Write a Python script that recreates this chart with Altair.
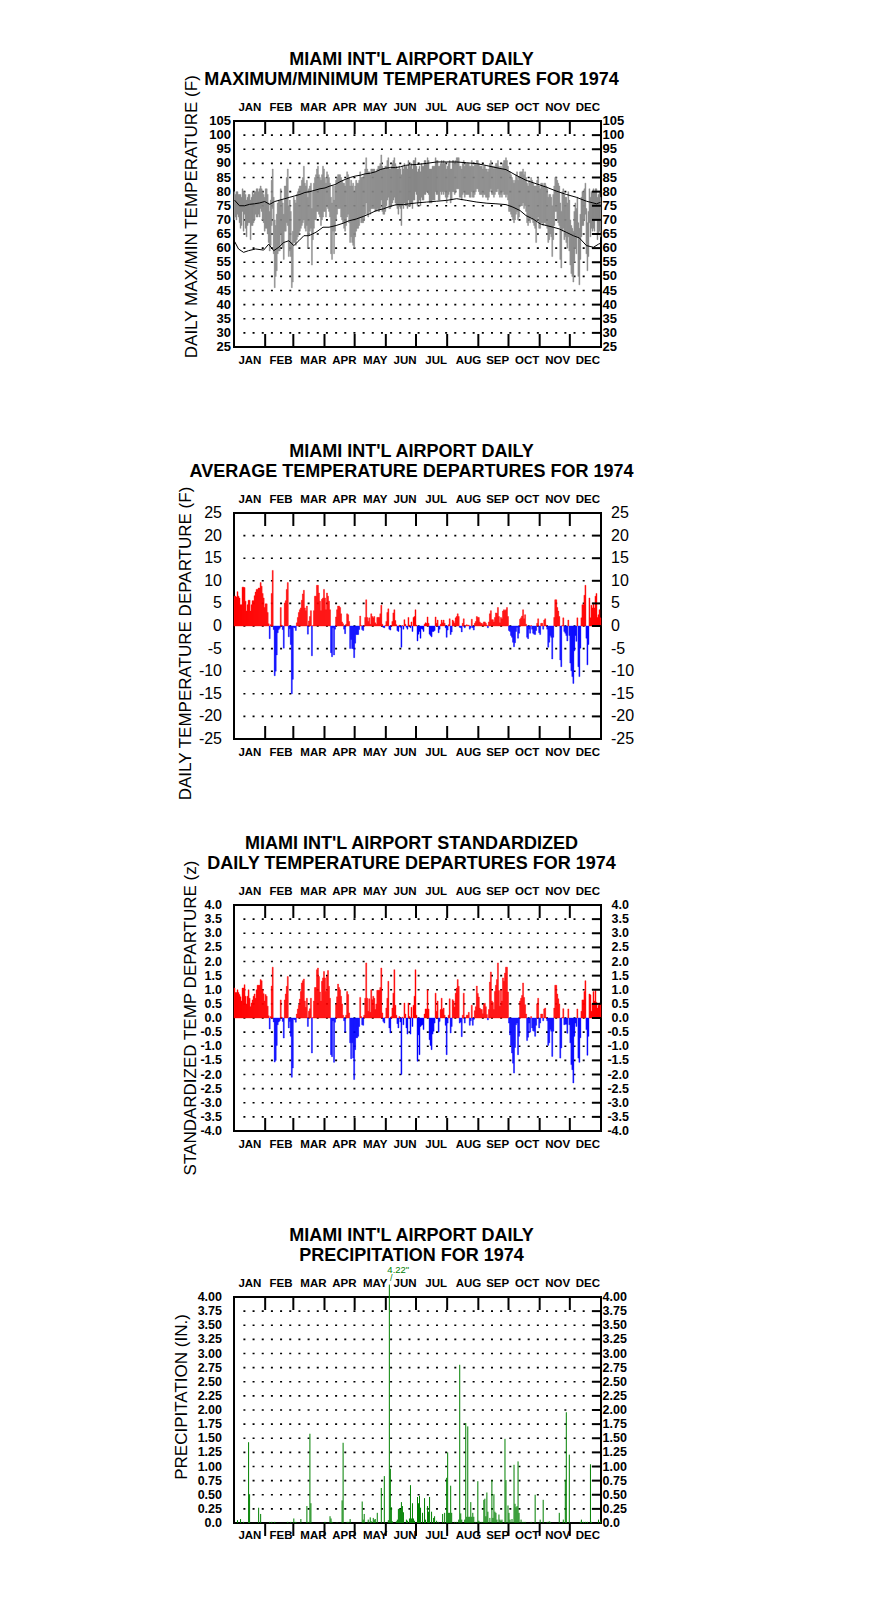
import altair as alt
import pandas as pd

MONTHS = ["JAN", "FEB", "MAR", "APR", "MAY", "JUN", "JUL", "AUG", "SEP", "OCT", "NOV", "DEC"]
MONTH_LENGTHS = [31, 28, 31, 30, 31, 30, 31, 31, 30, 31, 30, 31]
MONTH_EDGES = [31, 59, 90, 120, 151, 181, 212, 243, 273, 304, 334]
LABEL_DAYS = [15.8, 46.7, 79.0, 109.8, 140.5, 170.1, 201.0, 233.2, 262.2, 291.6, 321.9, 351.9]

# ---------------- daily maximum / minimum temperature (F) ----------------
TMAX_BY_MONTH = [
    [80, 79, 80, 80, 79, 79, 79, 78, 81, 80, 80, 79, 77, 78, 79, 79, 77, 78, 80, 79, 80, 80, 81, 81, 80, 81, 82, 81, 80, 79, 78],
    [81, 81, 79, 76, 73, 77, 84, 88, 78, 70, 68, 72, 76, 77, 77, 81, 77, 76, 72, 82, 82, 85, 88, 75, 77, 73, 62, 66],
    [78, 77, 76, 79, 80, 81, 82, 82, 84, 85, 89, 83, 82, 84, 78, 81, 82, 83, 74, 80, 83, 85, 86, 88, 89, 86, 85, 84, 86, 89, 88],
    [85, 83, 87, 86, 85, 83, 78, 76, 82, 77, 82, 84, 85, 86, 86, 86, 85, 84, 83, 83, 82, 84, 87, 86, 85, 82, 84, 82, 83, 80],
    [82, 84, 83, 83, 84, 87, 85, 85, 85, 86, 88, 92, 88, 87, 87, 86, 88, 88, 88, 88, 87, 87, 88, 89, 89, 90, 93, 89, 88, 88, 89],
    [89, 91, 92, 88, 88, 89, 90, 91, 92, 90, 89, 88, 88, 89, 88, 86, 89, 88, 90, 89, 89, 88, 91, 89, 89, 90, 88, 91, 91, 92],
    [89, 87, 88, 89, 87, 90, 89, 89, 91, 91, 90, 92, 91, 88, 88, 88, 89, 89, 89, 92, 91, 91, 89, 89, 90, 91, 90, 91, 90, 90, 88],
    [89, 90, 91, 88, 88, 91, 91, 90, 91, 92, 92, 92, 89, 89, 88, 90, 91, 89, 90, 90, 90, 90, 89, 89, 91, 89, 89, 90, 90, 91, 91],
    [90, 89, 89, 89, 88, 89, 89, 88, 88, 87, 88, 90, 91, 89, 89, 88, 89, 90, 90, 91, 89, 88, 89, 88, 90, 91, 91, 92, 91, 89],
    [87, 87, 86, 85, 84, 83, 84, 86, 87, 84, 85, 87, 87, 87, 88, 86, 87, 85, 83, 82, 84, 83, 85, 84, 83, 82, 82, 82, 84, 85, 82],
    [81, 83, 83, 82, 83, 83, 82, 81, 78, 79, 79, 78, 75, 79, 82, 85, 85, 84, 83, 82, 76, 73, 80, 81, 79, 78, 78, 76, 80, 77],
    [70, 68, 67, 66, 73, 76, 74, 78, 69, 67, 72, 78, 80, 80, 81, 83, 74, 69, 73, 81, 78, 80, 80, 81, 80, 81, 81, 78, 79, 80, 78],
]
TMIN_BY_MONTH = [
    [70, 71, 70, 72, 71, 69, 67, 68, 73, 66, 72, 67, 64, 68, 69, 69, 63, 68, 68, 69, 70, 72, 71, 71, 72, 71, 74, 73, 70, 69, 66],
    [67, 67, 65, 62, 59, 61, 68, 74, 58, 46, 50, 52, 58, 59, 59, 65, 61, 60, 56, 66, 66, 69, 68, 57, 59, 57, 46, 48],
    [62, 62, 61, 63, 64, 65, 66, 67, 68, 69, 70, 67, 66, 68, 60, 65, 66, 67, 54, 63, 67, 70, 70, 73, 73, 72, 71, 68, 70, 71, 73],
    [73, 71, 75, 74, 73, 71, 58, 56, 66, 58, 66, 70, 72, 74, 74, 74, 71, 70, 69, 67, 66, 68, 71, 72, 69, 62, 64, 62, 61, 60],
    [64, 66, 67, 67, 68, 71, 69, 69, 69, 70, 72, 76, 72, 71, 73, 72, 74, 74, 74, 74, 73, 73, 74, 73, 73, 74, 77, 73, 72, 72, 73],
    [75, 77, 78, 74, 74, 75, 76, 77, 78, 76, 75, 74, 72, 75, 74, 68, 75, 74, 76, 75, 75, 74, 77, 75, 75, 76, 74, 77, 77, 80],
    [79, 75, 76, 77, 75, 78, 77, 77, 79, 79, 80, 80, 79, 76, 76, 76, 77, 77, 77, 80, 79, 79, 77, 77, 80, 79, 80, 79, 80, 78, 76],
    [78, 79, 80, 76, 77, 80, 80, 79, 80, 81, 81, 81, 78, 78, 77, 79, 80, 78, 79, 79, 79, 79, 78, 78, 80, 78, 78, 79, 80, 81, 81],
    [80, 79, 79, 79, 78, 79, 79, 78, 78, 77, 78, 80, 81, 79, 79, 78, 79, 80, 80, 81, 79, 78, 79, 78, 80, 79, 79, 78, 79, 77],
    [73, 73, 72, 71, 70, 69, 70, 72, 73, 70, 71, 75, 75, 75, 76, 74, 75, 73, 69, 68, 70, 69, 71, 70, 69, 68, 67, 62, 70, 71, 67],
    [67, 69, 69, 68, 69, 69, 68, 67, 62, 63, 65, 64, 57, 63, 68, 73, 73, 70, 69, 68, 56, 53, 66, 67, 63, 64, 62, 60, 64, 59],
    [54, 51, 50, 48, 55, 60, 58, 64, 50, 47, 56, 64, 68, 68, 70, 72, 58, 52, 57, 69, 64, 67, 66, 67, 66, 70, 70, 63, 65, 66, 64],
]

# normal max / min curves (day of year, F)
NMAX_DAY = [0, 5, 10, 15, 20, 25, 30, 35, 40, 45, 50, 55, 60, 65, 70, 75, 80, 85, 90, 95, 100, 105, 110, 115, 120,
            125, 130, 135, 140, 145, 150, 155, 160, 165, 170, 175, 181, 191, 201, 211, 221, 231, 241, 251, 260, 270,
            280, 290, 300, 310, 320, 330, 340, 350, 360, 364]
NMAX_VAL = [77.0, 75.0, 75.0, 75.5, 75.7, 76.0, 76.5, 75.5, 76.5, 77.0, 77.5, 78.0, 78.5, 79.0, 79.7, 80.0, 80.5, 81.0,
            81.3, 82.0, 82.5, 83.5, 84.3, 85.0, 85.5, 85.8, 86.3, 86.5, 87.0, 87.8, 88.3, 88.5, 88.5, 88.8, 89.3, 89.5,
            89.6, 90.0, 90.5, 90.5, 90.5, 90.2, 89.9, 89.2, 88.5, 87.8, 85.8, 84.0, 82.8, 81.6, 80.2, 79.0, 78.0, 76.6,
            75.7, 76.2]
NMIN_DAY = [0, 4, 9, 14, 21, 29, 34, 39, 44, 49, 54, 59, 64, 69, 74, 81, 88, 94, 101, 108, 114, 121, 128, 134, 141, 148,
            154, 161, 168, 174, 181, 191, 201, 211, 221, 231, 241, 251, 260, 270, 277, 284, 290, 297, 304, 310, 317,
            323, 330, 337, 343, 350, 357, 362, 364]
NMIN_VAL = [62.4, 59.7, 58.5, 59.1, 59.7, 59.3, 61.4, 59.1, 60.3, 62.0, 62.6, 60.9, 62.6, 64.4, 64.4, 65.6, 67.4, 67.4,
            68.0, 68.8, 69.7, 70.3, 71.2, 72.1, 73.3, 73.9, 74.7, 75.4, 75.4, 75.7, 76.0, 76.3, 76.6, 76.9, 77.5, 76.9,
            76.3, 75.9, 75.7, 75.4, 74.5, 73.3, 71.5, 70.3, 68.6, 68.0, 67.4, 66.8, 65.6, 64.4, 63.6, 60.9, 60.3, 61.4,
            61.7]

# ---------------- daily average temperature departure (F) ----------------
DEP_BY_MONTH = [
    [6.6, 6.6, 6.4, 7.6, 6.6, 6.2, 4.7, 4.7, 8.6, 8.6, 8.5, 5.5, 3.3, 4.7, 5.7, 5.7, 3.3, 4.7, 5.6, 5.6, 6.7, 7.5, 8.1, 8.1, 8.4, 8.4, 9.6, 8.8, 7.2, 6.2, 4.1],
    [4.9, 4.9, 3.0, 0.5, -2.8, 0.3, 7.2, 12.3, -0.8, -11.0, -10.0, -6.4, -1.5, -0.8, -0.5, 4.1, 0.2, -0.8, -4.9, 5.1, 5.6, 8.1, 9.6, -2.4, -0.6, -4.1, -15.0, -11.8],
    [-0.3, -0.4, -1.0, 0.7, 1.9, 3.0, 3.6, 4.0, 5.7, 7.1, 7.9, 4.0, 3.4, 4.4, -1.8, 1.1, 2.1, 3.4, -6.6, 0.1, 3.4, 6.6, 6.6, 9.0, 9.0, 7.3, 5.5, 3.4, 5.9, 6.2, 8.1],
    [6.2, 3.6, 7.3, 6.6, 5.5, 3.6, -5.9, -6.8, -0.4, -6.4, -0.7, 2.0, 3.6, 4.4, 4.4, 4.1, 2.7, 0.9, 0.5, -0.7, -1.7, 0.4, 2.7, 2.5, 1.0, -5.0, -3.0, -5.0, -5.0, -7.0],
    [-3.8, -1.9, -1.9, -1.9, -0.8, 2.2, 0.1, -0.8, -1.0, 0.1, 1.9, 5.8, 1.9, 1.0, 1.8, 0.4, 2.7, 2.1, 1.8, 2.1, 0.7, 0.4, 1.9, 1.9, 1.9, 2.7, 4.6, 0.4, -0.3, -0.4, 0.1],
    [1.0, 3.0, 3.8, -0.7, -0.9, 0.1, 1.0, 2.9, 3.6, 1.2, 0.3, -1.0, -1.2, 0.2, -0.3, -4.7, 0.1, -0.7, 1.4, 0.4, -0.3, -0.7, 1.9, 0.2, -0.4, 0.9, -1.2, 1.9, 2.1, 3.6],
    [0.2, -3.3, -1.8, -1.2, -2.7, -0.6, -0.7, -1.2, 0.4, 0.7, 0.6, 2.0, 0.6, -1.8, -2.1, -2.4, -1.2, -1.2, -1.0, 2.0, 0.6, 1.3, -1.5, -0.7, 0.4, 1.3, 0.7, 1.3, 0.6, -0.4, -2.5],
    [-0.9, 0.3, 1.6, -1.9, -1.3, 1.3, 1.0, 0.6, 1.8, 2.1, 2.7, 2.1, -0.3, -0.4, -1.3, 0.6, 1.6, -0.4, 0.1, 0.3, 0.1, 0.2, -0.7, -0.4, 1.5, -0.4, -0.9, 0.6, 1.0, 2.1, 1.9],
    [1.9, 0.9, 0.6, 0.6, 0.3, 0.9, 0.9, 0.6, 0.2, -0.4, 0.9, 2.7, 3.4, 1.4, 1.4, 0.9, 1.9, 2.9, 2.8, 4.1, 2.1, 0.7, 1.9, 1.6, 3.3, 3.6, 3.4, 3.6, 4.1, 2.1],
    [-1.0, -1.2, -2.1, -2.5, -3.6, -4.6, -3.7, -1.2, -0.3, -2.7, -1.6, 1.5, 1.8, 2.2, 3.6, 1.6, 2.5, 0.4, -2.5, -2.8, -0.7, -1.6, 0.1, -0.7, -1.6, -1.8, -1.9, -1.0, 0.6, 1.6, -1.5],
    [-1.9, 0.6, 0.6, -0.7, 1.3, 1.6, 0.2, -0.7, -4.7, -3.6, -2.1, -2.5, -7.3, -2.5, 1.9, 5.8, 5.8, 4.1, 3.3, 2.1, -7.5, -9.0, 0.1, 1.8, -1.2, -1.6, -2.1, -3.3, 1.3, -2.1],
    [-8.2, -9.9, -11.2, -12.7, -5.5, -2.1, -3.4, 1.8, -9.0, -11.2, -4.9, 1.8, 4.7, 4.7, 6.8, 9.0, -2.7, -8.6, -4.1, 6.2, 1.8, 4.6, 4.0, 5.1, 4.0, 6.6, 7.2, 1.9, 2.5, 3.6, 1.8],
]

# ---------------- standardized daily departure (z) ----------------
STD_BY_MONTH = [
    [1.06, 0.9, 0.9, 1.0, 0.9, 0.83, 0.75, 0.6, 1.06, 1.06, 1.18, 0.77, 0.5, 0.77, 1.0, 0.7, 0.4, 0.53, 0.64, 0.77, 0.85, 0.7, 1.0, 1.16, 1.16, 1.16, 1.36, 1.32, 1.0, 0.86, 0.6],
    [0.83, 0.77, 0.42, 0.08, -0.39, 0.05, 1.13, 1.8, -0.14, -1.56, -1.5, -0.97, -0.24, -0.14, -0.1, 0.64, 0.03, -0.12, -0.71, 0.64, 0.85, 1.12, 1.47, -0.35, -0.12, -0.65, -2.1, -1.77],
    [-0.04, -0.06, -0.15, 0.14, 0.32, 0.45, 0.67, 0.94, 1.24, 1.32, 1.38, 0.6, 0.38, 0.7, -0.3, 0.24, 0.33, 0.7, -1.24, 0.02, 0.6, 1.08, 1.08, 1.71, 1.77, 1.47, 0.92, 0.6, 1.3, 1.42, 1.65],
    [1.42, 0.94, 1.47, 1.68, 1.12, 0.7, -1.3, -1.37, -0.1, -1.57, -0.15, 0.47, 0.75, 1.2, 1.08, 1.0, 0.77, 0.5, 0.1, -0.1, -0.5, 0.1, 0.94, 0.83, 0.18, -0.88, -1.44, -0.88, -1.42, -2.18],
    [-1.12, -0.7, -0.7, -0.65, -0.3, 0.73, 0.05, -0.24, -0.26, 0.1, 0.7, 1.95, 0.7, 0.24, 0.68, 0.2, 1.0, 0.65, 0.77, 0.7, 0.3, 0.5, 0.98, 0.98, 0.98, 1.08, 1.77, 0.18, -0.12, -0.18, 0.02],
    [0.35, 0.7, 1.3, -0.35, -0.53, 0.05, 0.35, 0.88, 1.71, 0.45, 0.1, -0.2, -0.35, 0.05, -0.14, -2.0, 0.03, -0.24, 0.53, 0.14, -0.35, -0.57, 0.53, 0.05, -0.57, 0.38, -0.3, 0.45, 0.77, 1.71],
    [0.1, -1.53, -0.6, -1.3, -0.3, -0.26, -0.24, -0.41, 0.14, 0.32, 0.32, 1.0, 0.32, -0.77, -0.97, -1.12, -0.57, -0.47, -0.18, 0.88, 0.24, 0.6, -0.5, -0.12, 0.3, 0.7, 0.3, 0.35, 0.1, -0.26, -1.3],
    [-0.18, 0.1, 0.68, -0.53, -0.3, 0.65, 0.6, 0.39, 0.88, 1.06, 1.36, 1.12, -0.18, -0.14, -0.66, 0.1, 0.88, -0.18, 0.02, 0.1, 0.1, 0.2, -0.26, -0.1, 0.45, -0.26, -0.05, 0.26, 0.4, 1.13, 0.87],
    [0.74, 0.35, 0.3, 0.3, 0.15, 0.5, 0.52, 0.4, 0.12, -0.07, 0.3, 1.27, 1.63, 0.6, 0.55, 0.3, 0.94, 1.16, 1.36, 1.95, 0.97, 0.42, 1.0, 0.6, 1.42, 1.3, 1.59, 1.8, 1.8, 0.92],
    [-0.18, -0.6, -0.97, -1.24, -1.6, -1.95, -1.04, -0.24, -0.18, -1.3, -0.65, 0.6, 0.7, 0.8, 1.24, 0.73, 0.47, 0.14, -0.8, -0.68, -0.18, -0.5, 0.05, -0.35, -0.45, -0.47, -0.65, -0.26, 0.5, 0.7, -0.35],
    [-0.18, 0.14, 0.14, -0.1, 0.32, 0.35, 0.02, -0.1, -0.97, -0.88, -0.4, -0.47, -1.36, -0.47, 0.35, 1.16, 1.16, 0.85, 0.68, 0.5, -1.42, -1.06, 0.02, 0.33, -0.24, -0.22, -0.22, -0.54, 0.32, -0.24],
    [-0.88, -1.65, -1.83, -2.3, -0.65, -0.18, -0.3, 0.32, -1.42, -1.57, -0.7, 0.24, 0.64, 0.64, 0.94, 1.32, -0.41, -1.32, -0.65, 0.85, 0.82, 0.24, 0.5, 0.94, 0.6, 0.97, 0.56, 0.35, 0.45, 0.53, 0.5],
]

# ---------------- daily precipitation (inches), days with rain ----------------
PRCP_DAY = [3, 6, 9, 14, 15, 24, 26, 35, 37, 40,
            53, 56, 59, 61, 66, 72, 73, 75, 76, 90,
            95, 96, 97, 102, 107, 108, 112, 113, 115, 127,
            128, 129, 133, 135, 136, 138, 139, 140, 142, 146,
            149, 153, 154, 155, 156, 157, 161, 162, 163, 164,
            165, 166, 167, 168, 171, 172, 174, 175, 176, 177,
            178, 179, 182, 183, 184, 185, 187, 189, 190, 192,
            193, 194, 196, 198, 199, 201, 203, 207, 209, 211,
            212, 213, 214, 215, 216, 219, 221, 223, 224, 225,
            226, 229, 230, 231, 232, 233, 234, 235, 236, 237,
            238, 240, 242, 243, 244, 246, 248, 249, 250, 251,
            252, 254, 256, 257, 258, 259, 260, 261, 263, 264,
            265, 266, 269, 270, 272, 273, 274, 276, 278, 279,
            280, 281, 282, 283, 285, 287, 289, 295, 299, 304,
            307, 311, 313, 314, 323, 327, 329, 330, 333, 344,
            345, 347, 349, 351, 354, 355, 362, 364]
PRCP_IN = [0.05, 0.07, 0.02, 1.43, 0.51, 0.27, 0.16, 0.02, 0.02, 0.02,
           0.02, 0.02, 0.08, 0.02, 0.07, 0.30, 0.02, 1.58, 0.35, 0.02,
           0.12, 0.08, 0.02, 0.01, 0.40, 1.42, 0.02, 0.02, 0.07, 0.38,
           0.06, 0.16, 0.06, 0.10, 0.03, 0.09, 0.06, 0.07, 0.18, 0.62,
           0.83, 0.05, 4.22, 0.96, 0.28, 0.03, 0.03, 0.06, 0.25, 0.25,
           0.25, 0.37, 0.30, 0.19, 0.06, 0.04, 0.08, 0.67, 0.08, 0.35,
           0.08, 0.04, 0.46, 0.35, 0.48, 0.27, 0.18, 0.44, 0.06, 0.30,
           0.20, 0.46, 0.20, 0.09, 0.12, 0.04, 0.02, 0.16, 0.18, 0.80,
           1.25, 0.18, 0.18, 0.66, 0.18, 0.02, 0.02, 0.06, 2.80, 0.17,
           0.06, 0.06, 1.77, 0.11, 1.71, 0.11, 0.11, 0.37, 0.11, 0.18,
           0.11, 0.02, 0.74, 0.04, 0.02, 0.02, 0.41, 0.43, 0.12, 0.54,
           0.20, 0.09, 0.76, 0.09, 0.51, 0.20, 0.18, 0.06, 0.15, 0.06,
           0.04, 0.06, 1.49, 0.76, 0.31, 0.18, 0.06, 0.07, 1.03, 0.34,
           0.28, 0.30, 1.09, 0.18, 0.06, 0.02, 0.02, 0.02, 0.50, 0.06,
           0.41, 0.02, 0.03, 0.02, 0.18, 0.06, 0.76, 1.96, 1.21, 0.02,
           0.06, 0.02, 0.02, 0.02, 1.04, 0.02, 0.06, 0.04]


def flat(month_lists):
    out = []
    for m, lst in zip(MONTH_LENGTHS, month_lists):
        assert len(lst) == m, (m, len(lst))
        out.extend(lst)
    return out


TMAX = flat(TMAX_BY_MONTH)
TMIN = flat(TMIN_BY_MONTH)
DEP = flat(DEP_BY_MONTH)
STD = flat(STD_BY_MONTH)
assert len(PRCP_DAY) == len(PRCP_IN)
DAYS = list(range(365))

W, H = 367, 226
XS = alt.Scale(domain=[0, 365], nice=False, zero=False)
FONT = "Liberation Sans"


def title_layers(lines):
    out = []
    for i, line in enumerate(lines):
        out.append(alt.Chart(pd.DataFrame({"t": [line]})).mark_text(
            font=FONT, fontSize=18, fontWeight="bold", color="black", align="center",
            baseline="alphabetic").encode(
            x=alt.value(W / 2 - 6), y=alt.value(-56.3 + 20.3 * i), text="t:N"))
    return out


def month_layers(bottom_outside=False, bottom_base=17):
    edges = pd.DataFrame({"d": MONTH_EDGES})
    labs = pd.DataFrame({"d": LABEL_DAYS, "m": MONTHS})
    top = alt.Chart(edges).mark_rule(color="black", strokeWidth=2).encode(
        x=alt.X("d:Q", scale=XS, axis=None), y=alt.value(0), y2=alt.value(13))
    y0, y1 = (H, H + 13) if bottom_outside else (H - 13, H)
    bot = alt.Chart(edges).mark_rule(color="black", strokeWidth=2).encode(
        x=alt.X("d:Q", scale=XS, axis=None), y=alt.value(y0), y2=alt.value(y1))
    style = dict(font=FONT, fontSize=11.5, fontWeight="bold", color="black", align="center", baseline="alphabetic")
    top_lab = alt.Chart(labs).mark_text(**style).encode(
        x=alt.X("d:Q", scale=XS, axis=None), y=alt.value(-10), text="m:N")
    bot_lab = alt.Chart(labs).mark_text(**style).encode(
        x=alt.X("d:Q", scale=XS, axis=None), y=alt.value(H + bottom_base), text="m:N")
    return [top, bot, top_lab, bot_lab]


def y_layers(domain, tick_vals, tick_text, grid_vals, title, title_x, title_y,
             lsize=12.5, lweight="bold", lpad=12, rpad=1.5, ralign="left"):
    ys = alt.Scale(domain=domain, nice=False, zero=False)
    gdf = pd.DataFrame({"v": grid_vals})
    grid = alt.Chart(gdf).mark_rule(color="black", strokeWidth=1.6, strokeDash=[2, 7.17]).encode(
        y=alt.Y("v:Q", scale=ys, axis=None), x=alt.value(9.4), x2=alt.value(W - 9))
    rt = alt.Chart(gdf).mark_rule(color="black", strokeWidth=2).encode(
        y=alt.Y("v:Q", scale=ys, axis=None), x=alt.value(W - 9), x2=alt.value(W))
    tdf = pd.DataFrame({"v": tick_vals, "t": tick_text})
    lstyle = dict(font=FONT, fontSize=lsize, fontWeight=lweight, color="black", baseline="middle")
    llab = alt.Chart(tdf).mark_text(align="right", **lstyle).encode(
        y=alt.Y("v:Q", scale=ys, axis=None), x=alt.value(-lpad), text="t:N")
    rlab = alt.Chart(tdf).mark_text(align=ralign, **lstyle).encode(
        y=alt.Y("v:Q", scale=ys, axis=None), x=alt.value(W + rpad), text="t:N")
    ytitle = alt.Chart(pd.DataFrame({"t": [title]})).mark_text(
        font=FONT, fontSize=17, fontWeight="normal", color="black", angle=270,
        align="center", baseline="middle").encode(
        x=alt.value(title_x), y=alt.value(title_y), text="t:N")
    return ys, [grid, rt, llab, rlab, ytitle]


def panel(layers, title_lines):
    return alt.layer(*(layers + title_layers(title_lines))).properties(width=W, height=H)


SIGN_SCALE = alt.Scale(domain=["pos", "neg"], range=["#ff0000", "#0000ff"])


def signed_bars(values, ys):
    df = pd.DataFrame({"day": DAYS, "day1": [d + 1 for d in DAYS], "v": values,
                       "base": [0] * 365, "sign": ["pos" if v >= 0 else "neg" for v in values]})
    return alt.Chart(df).mark_bar(strokeWidth=0.4).encode(
        x=alt.X("day:Q", scale=XS, axis=None), x2="day1:Q",
        y=alt.Y("v:Q", scale=ys, axis=None), y2="base:Q",
        color=alt.Color("sign:N", scale=SIGN_SCALE, legend=None),
        stroke=alt.Stroke("sign:N", scale=SIGN_SCALE, legend=None))


def signed_text(vals, digits):
    return [("-" if v < 0 else "") + f"{abs(v):.{digits}f}" for v in vals]


# ---- panel 1
t1 = list(range(25, 106, 5))
ys1, yl1 = y_layers([25, 105], t1, [str(v) for v in t1], list(range(30, 101, 5)),
                    "DAILY MAX/MIN TEMPERATURE (F)", -42.3, 95.7, lsize=13, lpad=3, rpad=1.5)
df1 = pd.DataFrame({"day": DAYS, "day1": [d + 1 for d in DAYS], "tmax": TMAX, "tmin": TMIN})
bars1 = alt.Chart(df1).mark_bar(color="#888888", stroke="#888888", strokeWidth=0.4).encode(
    x=alt.X("day:Q", scale=XS, axis=None), x2="day1:Q",
    y=alt.Y("tmin:Q", scale=ys1, axis=None), y2="tmax:Q")
nmax = alt.Chart(pd.DataFrame({"xc": [d + 0.5 for d in NMAX_DAY], "v": NMAX_VAL})).mark_line(
    color="black", strokeWidth=1).encode(x=alt.X("xc:Q", scale=XS, axis=None), y=alt.Y("v:Q", scale=ys1, axis=None))
nmin = alt.Chart(pd.DataFrame({"xc": [d + 0.5 for d in NMIN_DAY], "v": NMIN_VAL})).mark_line(
    color="black", strokeWidth=1).encode(x=alt.X("xc:Q", scale=XS, axis=None), y=alt.Y("v:Q", scale=ys1, axis=None))
p1 = panel([yl1[0], bars1, nmax, nmin] + yl1[1:] + month_layers(),
           ["MIAMI INT'L AIRPORT DAILY", "MAXIMUM/MINIMUM TEMPERATURES FOR 1974"])

# ---- panel 2
t2 = list(range(-25, 26, 5))
ys2, yl2 = y_layers([-25, 25], t2, signed_text(t2, 0), list(range(-20, 21, 5)),
                    "DAILY TEMPERATURE DEPARTURE (F)", -48.3, 130.5,
                    lsize=16, lweight="normal", lpad=12, rpad=10)
p2 = panel([yl2[0], signed_bars(DEP, ys2)] + yl2[1:] + month_layers(),
           ["MIAMI INT'L AIRPORT DAILY", "AVERAGE TEMPERATURE DEPARTURES FOR 1974"])

# ---- panel 3
t3 = [x / 2 for x in range(-8, 9)]
g3 = [x / 2 for x in range(-7, 8)]
ys3, yl3 = y_layers([-4, 4], t3, signed_text(t3, 1), g3,
                    "STANDARDIZED TEMP DEPARTURE (z)", -42.6, 113,
                    lpad=12, rpad=28, ralign="right")
p3 = panel([yl3[0], signed_bars(STD, ys3)] + yl3[1:] + month_layers(),
           ["MIAMI INT'L AIRPORT STANDARDIZED", "DAILY TEMPERATURE DEPARTURES FOR 1974"])

# ---- panel 4
t4 = [x / 4 for x in range(0, 17)]
g4 = [x / 4 for x in range(1, 16)]
ys4, yl4 = y_layers([0, 4], t4, ["0.0"] + [f"{v:.2f}" for v in t4[1:]], g4,
                    "PRECIPITATION (IN.)", -51.6, 100, lpad=12, rpad=1.5)
df4 = pd.DataFrame({"xc": [d + 0.5 for d in PRCP_DAY], "p": PRCP_IN, "base": [0] * len(PRCP_IN)})
rain = alt.Chart(df4).mark_rule(color="#008000", strokeWidth=1).encode(
    x=alt.X("xc:Q", scale=XS, axis=None), y=alt.Y("p:Q", scale=ys4, axis=None), y2="base:Q")
pk_val, pk_day = max(zip(PRCP_IN, PRCP_DAY))
dfpk = pd.DataFrame({"xc": [pk_day + 0.5], "p": [pk_val], "lab": [f'{pk_val:.2f}"'], "sl": ["/"]})
pk_text = alt.Chart(dfpk).mark_text(color="#008000", font=FONT, fontSize=9.5, align="left",
                                    baseline="alphabetic", dx=-2, dy=-11.5).encode(
    x=alt.X("xc:Q", scale=XS, axis=None), y=alt.Y("p:Q", scale=ys4, axis=None), text="lab:N")
pk_slash = alt.Chart(dfpk).mark_text(color="#008000", font=FONT, fontSize=9, align="center",
                                     baseline="alphabetic", dx=2, dy=-4).encode(
    x=alt.X("xc:Q", scale=XS, axis=None), y=alt.Y("p:Q", scale=ys4, axis=None), text="sl:N")
p4 = panel([yl4[0], rain, pk_text, pk_slash] + yl4[1:] + month_layers(bottom_outside=True, bottom_base=16),
           ["MIAMI INT'L AIRPORT DAILY", "PRECIPITATION FOR 1974"])

chart = alt.vconcat(p1, p2, p3, p4, spacing=166, bounds="flush").properties(
    padding={"left": 164, "top": 41, "right": 10, "bottom": 10}
).configure_view(stroke="black", strokeWidth=2)

chart.save("out.html", embed_options={"renderer": "svg", "actions": False})
